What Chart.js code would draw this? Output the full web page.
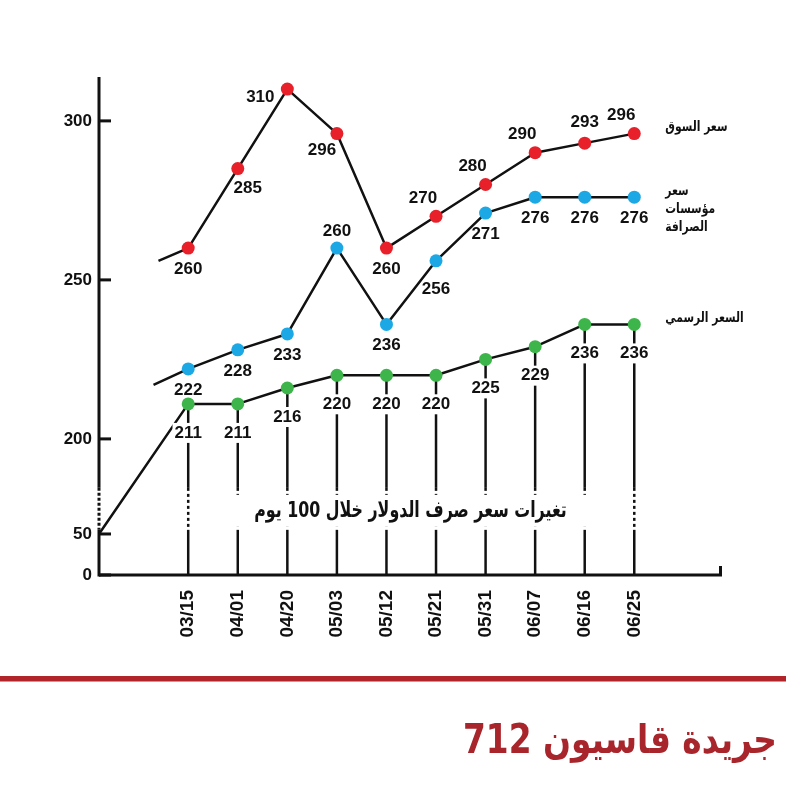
<!DOCTYPE html>
<html lang="ar">
<head>
<meta charset="utf-8">
<title>تغيرات سعر صرف الدولار خلال 100 يوم</title>
<script src="https://cdn.jsdelivr.net/npm/chart.js@4.4.1/dist/chart.umd.min.js"></script>
<style>
  html, body { margin: 0; padding: 0; background: #fff; }
  #wrap { width: 800px; height: 800px; }
</style>
</head>
<body>
<div id="wrap"><canvas id="chart" width="800" height="800"></canvas></div>
<script>
// data
const dates = ["03/15", "04/01", "04/20", "05/03", "05/12", "05/21", "05/31", "06/07", "06/16", "06/25"];
const marketPrice = [260, 285, 310, 296, 260, 270, 280, 290, 293, 296];
const exchangePrice = [222, 228, 233, 260, 236, 256, 271, 276, 276, 276];
const officialPrice = [211, 211, 216, 220, 220, 220, 225, 229, 236, 236];
// where each line comes in from the left (x in date steps, y value)
const marketLead = [-0.6, 256];
const exchangeLead = [-0.7, 217];
const officialLead = [-1.8, 50];
const yTickValues = [0, 50, 200, 250, 300];
const seriesNames = [["سعر السوق"], ["سعر", "مؤسسات", "الصرافة"], ["السعر الرسمي"]];
const chartTitle = "تغيرات سعر صرف الدولار خلال 100 يوم";
const footerText = "جريدة قاسيون 712";

// broken axis: 0..50 and 50..200 are squeezed under the 200+ part
const toAxis = (v) => v >= 200 ? v : v >= 50 ? 170.1 + (v - 50) * 29.9 / 150 : 157.2 + v * 12.9 / 50;
const BREAK_HI = 184.6, BREAK_LO = 171.4; // dotted band on the axis
const X_MIN = -1.8, X_MAX = 10.77;

const NUM_FONT = "bold 17px 'Liberation Sans', Arial, sans-serif";
const AR_FONT = "'DejaVu Sans', sans-serif";
const colors = ["#e8202a", "#1ca8e4", "#3db54a"];

// label spots around a point: [dx, dy]
const spots = {
  below: [0, 21], belowR: [10, 20], belowL: [-15, 17], left: [-27, 8],
  above: [0, -21], aboveL: [-13, -18], low: [0, 29], up: [0, -17]
};
const marketSpots = ["below", "belowR", "left", "belowL", "below", "aboveL", "aboveL", "aboveL", "above", "aboveL"];
const exchangeSpots = ["below", "below", "below", "up", "below", "low", "below", "below", "below", "below"];
const officialSpots = officialPrice.map(() => "low");

const toPoints = (lead, values) =>
  [{ x: lead[0], y: toAxis(lead[1]) }].concat(values.map((v, i) => ({ x: i, y: toAxis(v) })));

function line(ctx, x1, y1, x2, y2, dash) {
  ctx.setLineDash(dash || []);
  ctx.beginPath();
  ctx.moveTo(x1, y1);
  ctx.lineTo(x2, y2);
  ctx.stroke();
  ctx.setLineDash([]);
}

// arabic text drawn a little narrower, like the condensed face in the print
function squeezed(ctx, text, x, y, sx) {
  ctx.save();
  ctx.translate(x, y);
  ctx.scale(sx, 1);
  ctx.fillText(text, 0, 0);
  ctx.restore();
}

const frame = {
  id: "frame",
  beforeDatasetsDraw(chart) {
    const { ctx, chartArea: a, scales: { x, y } } = chart;
    const bTop = y.getPixelForValue(BREAK_HI);
    const bBot = y.getPixelForValue(BREAK_LO);
    ctx.save();
    ctx.strokeStyle = "#111";
    ctx.lineWidth = 3;
    // y axis with dotted break
    line(ctx, a.left, a.top, a.left, bTop);
    line(ctx, a.left, bTop, a.left, bBot, [3, 2]);
    line(ctx, a.left, bBot, a.left, a.bottom + 1.5);
    // x axis + end tick
    line(ctx, a.left, a.bottom, a.right, a.bottom);
    line(ctx, a.right - 1.5, a.bottom, a.right - 1.5, a.bottom - 9);
    // tick marks inside
    yTickValues.forEach((v) => {
      const py = y.getPixelForValue(toAxis(v));
      line(ctx, a.left, py, a.left + 12, py);
    });
    // drop lines from the official price points
    ctx.lineWidth = 2.5;
    const meta = chart.getDatasetMeta(2);
    officialPrice.forEach((v, i) => {
      const p = meta.data[i + 1];
      line(ctx, p.x, p.y, p.x, bTop);
      line(ctx, p.x, bTop, p.x, bBot, [3, 3]);
      line(ctx, p.x, bBot, p.x, a.bottom);
    });
    // title in a white box across the break
    const sx = 0.72;
    ctx.font = "bold 22px " + AR_FONT;
    ctx.direction = "rtl";
    ctx.textAlign = "center";
    ctx.textBaseline = "middle";
    const cx = (a.left + a.right) / 2;
    const cy = (bTop + bBot) / 2 + 2;
    const w = ctx.measureText(chartTitle).width * sx;
    ctx.fillStyle = "#fff";
    ctx.fillRect(cx - w / 2 - 28, cy - 16, w + 56, 32);
    ctx.fillStyle = "#111";
    squeezed(ctx, chartTitle, cx, cy, sx);
    ctx.restore();
  }
};

const valueLabels = {
  id: "valueLabels",
  afterDatasetsDraw(chart) {
    const { ctx } = chart;
    const all = [marketPrice, exchangePrice, officialPrice];
    const where = [marketSpots, exchangeSpots, officialSpots];
    ctx.save();
    ctx.textAlign = "center";
    ctx.textBaseline = "middle";
    all.forEach((values, s) => {
      const meta = chart.getDatasetMeta(s);
      ctx.font = NUM_FONT;
      values.forEach((v, i) => {
        const p = meta.data[i + 1];
        const [dx, dy] = spots[where[s][i]];
        const tx = p.x + dx, ty = p.y + dy;
        if (s === 2) {
          const w = ctx.measureText(String(v)).width;
          ctx.fillStyle = "#fff";
          ctx.fillRect(tx - w / 2 - 2, ty - 10, w + 4, 20);
        }
        ctx.fillStyle = "#111";
        ctx.fillText(String(v), tx, ty);
      });
      // series name next to the last point
      const last = meta.data[meta.data.length - 1];
      ctx.save();
      ctx.font = "bold 14px " + AR_FONT;
      ctx.direction = "rtl";
      ctx.textAlign = "left";
      seriesNames[s].forEach((t, k) => {
        squeezed(ctx, t, last.x + 31, last.y - 6 + k * 18, 0.77);
      });
      ctx.restore();
    });
    ctx.restore();
  },
  afterDraw(chart) {
    const { ctx, width } = chart;
    ctx.save();
    ctx.fillStyle = "#b0242a";
    ctx.fillRect(0, 676, width - 14, 5.5);
    ctx.font = "bold 40px " + AR_FONT;
    ctx.direction = "rtl";
    ctx.textAlign = "right";
    ctx.textBaseline = "alphabetic";
    ctx.fillStyle = "#a8262b";
    squeezed(ctx, footerText, width - 23, 753, 0.82);
    ctx.restore();
  }
};

const makeSet = (label, lead, values, color) => ({
  label,
  data: toPoints(lead, values),
  borderColor: "#111",
  borderWidth: 2.5,
  borderJoinStyle: "round",
  pointRadius: [0].concat(values.map(() => 6.5)),
  pointBackgroundColor: color,
  pointBorderWidth: 0,
  tension: 0,
  clip: false
});

new Chart(document.getElementById("chart"), {
  type: "line",
  data: {
    datasets: [
      makeSet(seriesNames[0].join(" "), marketLead, marketPrice, colors[0]),
      makeSet(seriesNames[1].join(" "), exchangeLead, exchangePrice, colors[1]),
      makeSet(seriesNames[2].join(" "), officialLead, officialPrice, colors[2])
    ]
  },
  options: {
    responsive: false,
    animation: false,
    devicePixelRatio: 1,
    layout: { padding: { top: 77, right: 78, left: 0, bottom: 0 } },
    plugins: { legend: { display: false }, tooltip: { enabled: false } },
    scales: {
      x: {
        type: "linear",
        min: X_MIN,
        max: X_MAX,
        grid: { display: false, drawTicks: false },
        border: { display: false },
        afterBuildTicks: (scale) => { scale.ticks = dates.map((d, i) => ({ value: i })); },
        afterFit: (scale) => { scale.height = 225; },
        ticks: {
          autoSkip: false,
          minRotation: 90,
          maxRotation: 90,
          padding: 15,
          color: "#111",
          font: { family: "'Liberation Sans', Arial, sans-serif", weight: "bold", size: 19 },
          callback: (value) => dates[value]
        }
      },
      y: {
        min: toAxis(0),
        max: 313.8,
        grid: { display: false, drawTicks: false },
        border: { display: false },
        afterBuildTicks: (scale) => { scale.ticks = yTickValues.map((v) => ({ value: toAxis(v) })); },
        afterFit: (scale) => { scale.width = 99; },
        ticks: {
          padding: 7,
          color: "#111",
          font: { family: "'Liberation Sans', Arial, sans-serif", weight: "bold", size: 17 },
          callback: (value, index) => String(yTickValues[index])
        }
      }
    }
  },
  plugins: [frame, valueLabels]
});
</script>
</body>
</html>
